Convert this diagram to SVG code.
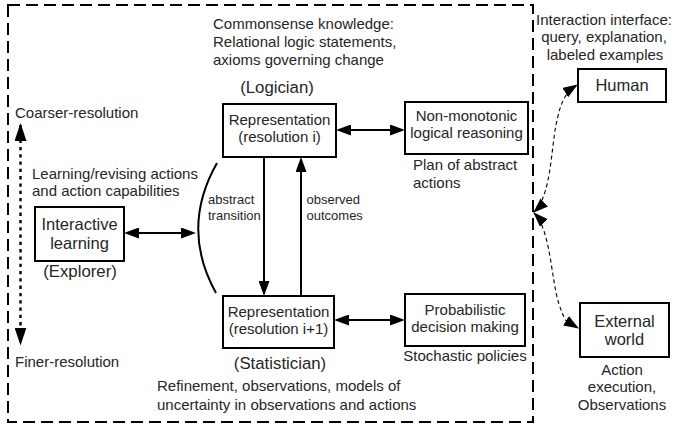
<svg xmlns="http://www.w3.org/2000/svg" width="673" height="426" viewBox="0 0 673 426">
<style>
  text { font-family: "Liberation Sans", Arial, sans-serif; fill: #262626; }
  .t15 { font-size: 15px; }
  .t13 { font-size: 13px; }
  .t16 { font-size: 16.5px; }
  .t17 { font-size: 16.8px; }
  .mid { text-anchor: middle; }
  .box { fill: #fff; stroke: #000; stroke-width: 2; }
  .conn { stroke: #000; stroke-width: 2; fill: none; }
  .dash { stroke: #000; stroke-width: 1.1; fill: none; stroke-dasharray: 4 3; }
</style>
<defs>
  <marker id="ah" viewBox="0 0 15 11" refX="12" refY="5.5" markerWidth="15" markerHeight="11" markerUnits="userSpaceOnUse" orient="auto-start-reverse">
    <path d="M0,0 L15,5.5 L0,11 z" fill="#000"/>
  </marker>
  <marker id="ahb" viewBox="0 0 18 12" refX="16" refY="6" markerWidth="18" markerHeight="12" markerUnits="userSpaceOnUse" orient="auto-start-reverse">
    <path d="M0,0 L18,6 L0,12 z" fill="#000"/>
  </marker>
  <marker id="ahd" viewBox="0 0 15 11" refX="14" refY="5.5" markerWidth="15" markerHeight="11" markerUnits="userSpaceOnUse" orient="auto-start-reverse">
    <path d="M0,0 L15,5.5 L0,11 z" fill="#000"/>
  </marker>
</defs>

<rect id="boundary" x="8" y="5" width="525" height="417" fill="none" stroke="#000" stroke-width="2" stroke-dasharray="12 6"/>

<g id="labels">
  <text class="t15" x="213" y="29">Commonsense knowledge:</text>
  <text class="t15" x="213" y="47">Relational logic statements,</text>
  <text class="t15" x="213" y="64.5">axioms governing change</text>
  <text class="t17 mid" x="277" y="93">(Logician)</text>
  <text class="t15" x="15" y="118">Coarser-resolution</text>
  <text class="t15" x="15" y="367">Finer-resolution</text>
  <text class="t15" x="32" y="178.5">Learning/revising actions</text>
  <text class="t15" x="32" y="196">and action capabilities</text>
  <text class="t17 mid" x="80" y="276.5">(Explorer)</text>
  <text class="t13" x="208" y="203.5">abstract</text>
  <text class="t13" x="208" y="219.5">transition</text>
  <text class="t13" x="306.5" y="203.5">observed</text>
  <text class="t13" x="306.5" y="219.5">outcomes</text>
  <text class="t15" x="413" y="170">Plan of abstract</text>
  <text class="t15" x="413" y="187.5">actions</text>
  <text class="t17 mid" x="280" y="369">(Statistician)</text>
  <text class="t15 mid" x="465" y="361">Stochastic policies</text>
  <text class="t15" x="157" y="391">Refinement, observations, models of</text>
  <text class="t15" x="157" y="409.5">uncertainty in observations and actions</text>
  <text class="t15 mid" x="604" y="24.5">Interaction interface:</text>
  <text class="t15 mid" x="604" y="42">query, explanation,</text>
  <text class="t15 mid" x="605" y="59.5">labeled examples</text>
  <text class="t15 mid" x="622" y="374.5">Action</text>
  <text class="t15 mid" x="622" y="392">execution,</text>
  <text class="t15 mid" x="622" y="409.5">Observations</text>
</g>

<g id="connectors">
  <line class="conn" x1="339" y1="130" x2="402" y2="130" marker-start="url(#ah)" marker-end="url(#ah)"/>
  <line class="conn" x1="337" y1="320" x2="402" y2="320" marker-start="url(#ah)" marker-end="url(#ah)"/>
  <line class="conn" x1="127" y1="233" x2="193" y2="233" marker-start="url(#ah)" marker-end="url(#ah)"/>
  <line class="conn" x1="264" y1="157" x2="264" y2="293" marker-end="url(#ah)"/>
  <line class="conn" x1="301" y1="296" x2="301" y2="160" marker-end="url(#ah)"/>
  <path class="conn" d="M217,163 Q180,228 216,293"/>
  <line x1="20.5" y1="125" x2="20.5" y2="343.5" stroke="#000" stroke-width="2.4" stroke-dasharray="3.3 4" marker-start="url(#ahb)" marker-end="url(#ahb)"/>
  <path class="dash" d="M534,212 C551,196 551,150 556,125 S566,92 577,85" marker-start="url(#ahd)" marker-end="url(#ahd)"/>
  <path class="dash" d="M534,213 C551,230 551,280 559,304 S568,322 578,328" marker-start="url(#ahd)" marker-end="url(#ahd)"/>
</g>

<g id="rep-i">
  <rect class="box" x="223" y="104" width="113" height="53"/>
  <text class="t15 mid" x="279.5" y="124.5">Representation</text>
  <text class="t15 mid" x="279.5" y="142">(resolution i)</text>
</g>
<g id="rep-i1">
  <rect class="box" x="223" y="296" width="111" height="52"/>
  <text class="t15 mid" x="278.5" y="316.5">Representation</text>
  <text class="t15 mid" x="278.5" y="334">(resolution i+1)</text>
</g>
<g id="nonmono">
  <rect class="box" x="405" y="102" width="123" height="52"/>
  <text class="t15 mid" x="466.5" y="121">Non-monotonic</text>
  <text class="t15 mid" x="466.5" y="138">logical reasoning</text>
</g>
<g id="prob">
  <rect class="box" x="405" y="294" width="120" height="52"/>
  <text class="t15 mid" x="465" y="314.5">Probabilistic</text>
  <text class="t15 mid" x="465" y="332">decision making</text>
</g>
<g id="interactive">
  <rect class="box" x="35" y="207" width="89" height="54"/>
  <text class="t16 mid" x="79.5" y="230">Interactive</text>
  <text class="t16 mid" x="79.5" y="249">learning</text>
</g>
<g id="human">
  <rect class="box" x="578" y="69" width="88" height="33"/>
  <text class="t16 mid" x="622" y="91">Human</text>
</g>
<g id="external">
  <rect class="box" x="580" y="303" width="89" height="54"/>
  <text class="t16 mid" x="624.5" y="326.5">External</text>
  <text class="t16 mid" x="624.5" y="345">world</text>
</g>
</svg>
